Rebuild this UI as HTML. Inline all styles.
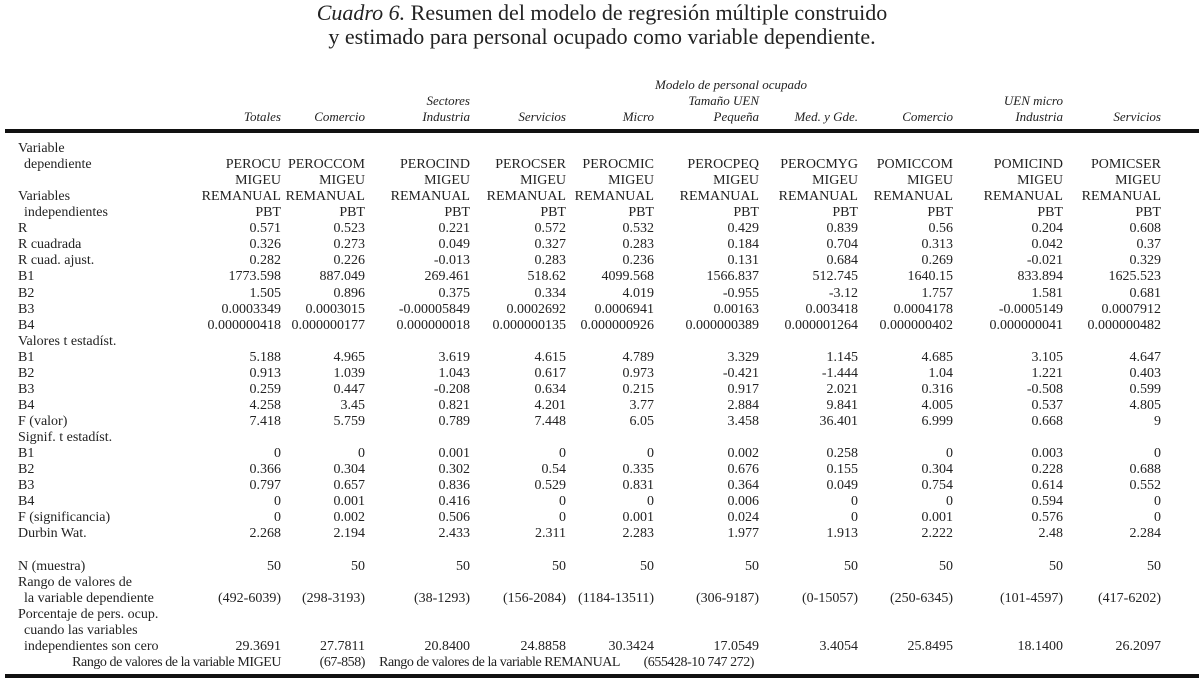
<!DOCTYPE html>
<html><head><meta charset="utf-8">
<style>
body{margin:0;background:#fff;}
#page{position:relative;width:1204px;height:681px;overflow:hidden;font-family:"Liberation Serif",serif;color:#222;font-size:14px;}
.t{position:absolute;white-space:nowrap;line-height:16px;}
.i{font-style:italic;font-size:13px;}
.f{letter-spacing:-0.45px;}
.title{position:absolute;left:0;width:1204px;text-align:center;font-size:22px;line-height:24px;}
.rule{position:absolute;left:5px;width:1194px;background:#111;}
</style></head><body>
<div id="page">
<div class="title" style="top:1px"><i>Cuadro 6.</i> Resumen del modelo de regresión múltiple construido</div>
<div class="title" style="top:25px">y estimado para personal ocupado como variable dependiente.</div>
<div class="rule" style="top:129px;height:4px"></div>
<div class="rule" style="top:674px;height:4px"></div>
</div>
<script>
const colRight=[281,365,470,566,654,759,858,953,1063,1161];
const headers=["Totales","Comercio","Industria","Servicios","Micro","Pequeña","Med. y Gde.","Comercio","Industria","Servicios"];
const rows=[
["Variable",[]],
[" dependiente",["PEROCU","PEROCCOM","PEROCIND","PEROCSER","PEROCMIC","PEROCPEQ","PEROCMYG","POMICCOM","POMICIND","POMICSER"]],
["",["MIGEU","MIGEU","MIGEU","MIGEU","MIGEU","MIGEU","MIGEU","MIGEU","MIGEU","MIGEU"]],
["Variables",["REMANUAL","REMANUAL","REMANUAL","REMANUAL","REMANUAL","REMANUAL","REMANUAL","REMANUAL","REMANUAL","REMANUAL"]],
[" independientes",["PBT","PBT","PBT","PBT","PBT","PBT","PBT","PBT","PBT","PBT"]],
["R",["0.571","0.523","0.221","0.572","0.532","0.429","0.839","0.56","0.204","0.608"]],
["R cuadrada",["0.326","0.273","0.049","0.327","0.283","0.184","0.704","0.313","0.042","0.37"]],
["R cuad. ajust.",["0.282","0.226","-0.013","0.283","0.236","0.131","0.684","0.269","-0.021","0.329"]],
["B1",["1773.598","887.049","269.461","518.62","4099.568","1566.837","512.745","1640.15","833.894","1625.523"]],
["B2",["1.505","0.896","0.375","0.334","4.019","-0.955","-3.12","1.757","1.581","0.681"]],
["B3",["0.0003349","0.0003015","-0.00005849","0.0002692","0.0006941","0.00163","0.003418","0.0004178","-0.0005149","0.0007912"]],
["B4",["0.000000418","0.000000177","0.000000018","0.000000135","0.000000926","0.000000389","0.000001264","0.000000402","0.000000041","0.000000482"]],
["Valores t estadíst.",[]],
["B1",["5.188","4.965","3.619","4.615","4.789","3.329","1.145","4.685","3.105","4.647"]],
["B2",["0.913","1.039","1.043","0.617","0.973","-0.421","-1.444","1.04","1.221","0.403"]],
["B3",["0.259","0.447","-0.208","0.634","0.215","0.917","2.021","0.316","-0.508","0.599"]],
["B4",["4.258","3.45","0.821","4.201","3.77","2.884","9.841","4.005","0.537","4.805"]],
["F (valor)",["7.418","5.759","0.789","7.448","6.05","3.458","36.401","6.999","0.668","9"]],
["Signif. t estadíst.",[]],
["B1",["0","0","0.001","0","0","0.002","0.258","0","0.003","0"]],
["B2",["0.366","0.304","0.302","0.54","0.335","0.676","0.155","0.304","0.228","0.688"]],
["B3",["0.797","0.657","0.836","0.529","0.831","0.364","0.049","0.754","0.614","0.552"]],
["B4",["0","0.001","0.416","0","0","0.006","0","0","0.594","0"]],
["F (significancia)",["0","0.002","0.506","0","0.001","0.024","0","0.001","0.576","0"]],
["Durbin Wat.",["2.268","2.194","2.433","2.311","2.283","1.977","1.913","2.222","2.48","2.284"]],
["",[]],
["N (muestra)",["50","50","50","50","50","50","50","50","50","50"]],
["Rango de valores de",[]],
[" la variable dependiente",["(492-6039)","(298-3193)","(38-1293)","(156-2084)","(1184-13511)","(306-9187)","(0-15057)","(250-6345)","(101-4597)","(417-6202)"]],
["Porcentaje de pers. ocup.",[]],
[" cuando las variables",[]],
[" independientes son cero",["29.3691","27.7811","20.8400","24.8858","30.3424","17.0549","3.4054","25.8495","18.1400","26.2097"]]
];
const page=document.getElementById('page');
function txt(s,x,y,right,cls){
  const d=document.createElement('div');
  d.className='t'+(cls?' '+cls:'');
  d.textContent=s;
  d.style.top=(y-8)+'px';
  if(right){d.style.right=(1204-x)+'px';}else{d.style.left=x+'px';}
  page.appendChild(d);
  return d;
}
let h=txt("Modelo de personal ocupado",655,85,false,'i');


h=txt("Sectores",470,101,true,'i');


h=txt("Tamaño UEN",759,101,true,'i');


h=txt("UEN micro",1063,101,true,'i');


headers.forEach((s,c)=>{
  const e=txt(s,colRight[c],117,true,'i');
  
  
});
const y0=149, step=16.06;
rows.forEach((r,i)=>{
  const y=Math.round(y0+step*i);
  const lab=r[0];
  if(lab.trim()){
    const e=txt(lab.trim(),lab.startsWith(' ')?24:18,y,false,'');
    
    
  }
  r[1].forEach((v,c)=>{
    const e=txt(v,colRight[c],y,true,'');
    
    
  });
});
const yl=Math.round(y0+step*32);
const foot=[["Rango de valores de la variable MIGEU",281],["(67-858)",365],["Rango de valores de la variable REMANUAL",620],["(655428-10 747 272)",754]];
foot.forEach(f=>{
  const e=txt(f[0],f[1],yl,true,'f');
  
  
});
</script>
</body></html>
